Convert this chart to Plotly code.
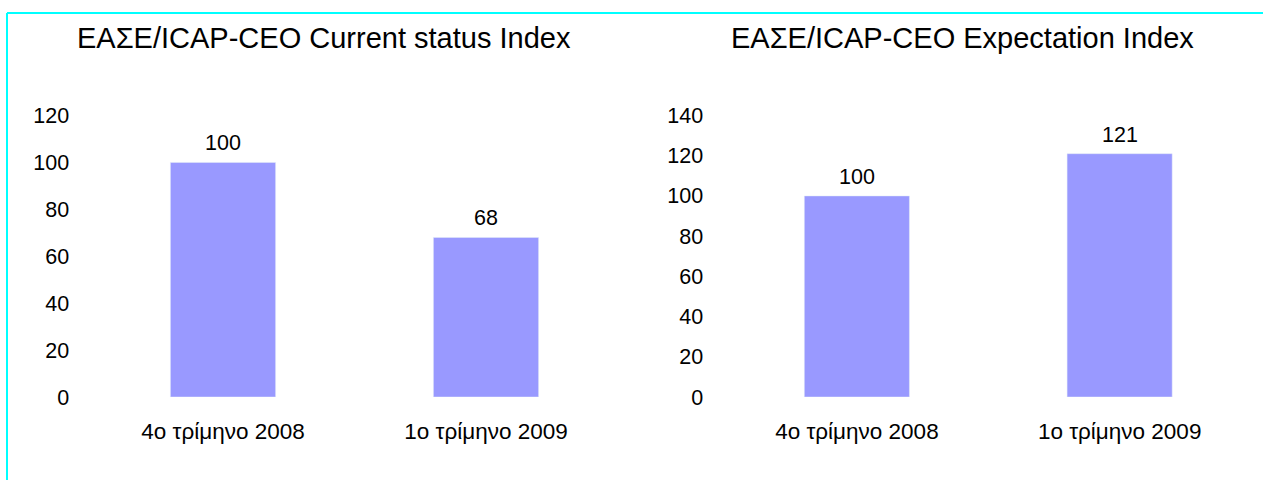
import plotly.graph_objects as go

categories = ["4ο τρίμηνο 2008", "1ο τρίμηνο 2009"]
current_values = [100, 68]
expectation_values = [100, 121]
titles = ["ΕΑΣΕ/ICAP-CEO Current status Index", "ΕΑΣΕ/ICAP-CEO Expectation Index"]
left_ticks = [0, 20, 40, 60, 80, 100, 120]
right_ticks = [0, 20, 40, 60, 80, 100, 120, 140]

W, H = 1263, 480
BAR = "#9999FF"
FONT = "Liberation Sans, Arial, sans-serif"

fig = go.Figure()
fig.add_trace(go.Bar(x=categories, y=current_values, width=0.4, marker_color=BAR,
                     xaxis="x", yaxis="y", hoverinfo="skip"))
fig.add_trace(go.Bar(x=categories, y=expectation_values, width=0.4, marker_color=BAR,
                     xaxis="x2", yaxis="y2", hoverinfo="skip"))

ydom = [(480 - 397) / H, (480 - 115.5) / H]
common_x = dict(type="category", showline=False, showgrid=False, zeroline=False,
                automargin=False, fixedrange=True,
                ticks="outside", ticklen=14, tickcolor="rgba(0,0,0,0)",
                tickfont=dict(family=FONT, size=22.5, color="black"), range=[-0.5, 1.5])
common_y = dict(showline=False, showgrid=False, zeroline=False,
                automargin=False, fixedrange=True,
                ticks="outside", ticklen=17, tickcolor="rgba(0,0,0,0)",
                tickfont=dict(family=FONT, size=21.5, color="black"), domain=ydom)

annotations = []
for xa, ya, vals in (("x", "y", current_values), ("x2", "y2", expectation_values)):
    for c, v in zip(categories, vals):
        annotations.append(dict(x=c, y=v, xref=xa, yref=ya, text=str(v), showarrow=False,
                                yanchor="middle", yshift=19,
                                font=dict(family=FONT, size=21.5, color="black")))
for tx, t in ((324 / W, titles[0]), (962.5 / W, titles[1])):
    annotations.append(dict(x=tx, y=(480 - 38) / H, xref="paper", yref="paper", text=t,
                            showarrow=False, xanchor="center", yanchor="middle",
                            font=dict(family=FONT, size=29, color="black")))

border = "#00FFFF"
shapes = [
    dict(type="line", xref="paper", yref="paper", x0=7 / W, x1=7 / W, y0=0, y1=(480 - 13) / H,
         line=dict(color=border, width=2)),
    dict(type="line", xref="paper", yref="paper", x0=7 / W, x1=1, y0=(480 - 13) / H, y1=(480 - 13) / H,
         line=dict(color=border, width=2)),
]

fig.update_layout(
    width=W, height=H, autosize=False,
    margin=dict(l=0, r=0, t=0, b=0, pad=0, autoexpand=False),
    paper_bgcolor="white", plot_bgcolor="white",
    showlegend=False,
    xaxis=dict(domain=[91.5 / W, 617.5 / W], anchor="y", **common_x),
    xaxis2=dict(domain=[725.5 / W, 1251 / W], anchor="y2", **common_x),
    yaxis=dict(anchor="x", range=[0, 120], tickvals=left_ticks, **common_y),
    yaxis2=dict(anchor="x2", range=[0, 140], tickvals=right_ticks, **common_y),
    annotations=annotations,
    shapes=shapes,
    font=dict(family=FONT, color="black"),
)

fig.write_html("out.html", config={"displayModeBar": False},
               post_script="document.body.style.margin='0';document.body.style.overflow='hidden';")
